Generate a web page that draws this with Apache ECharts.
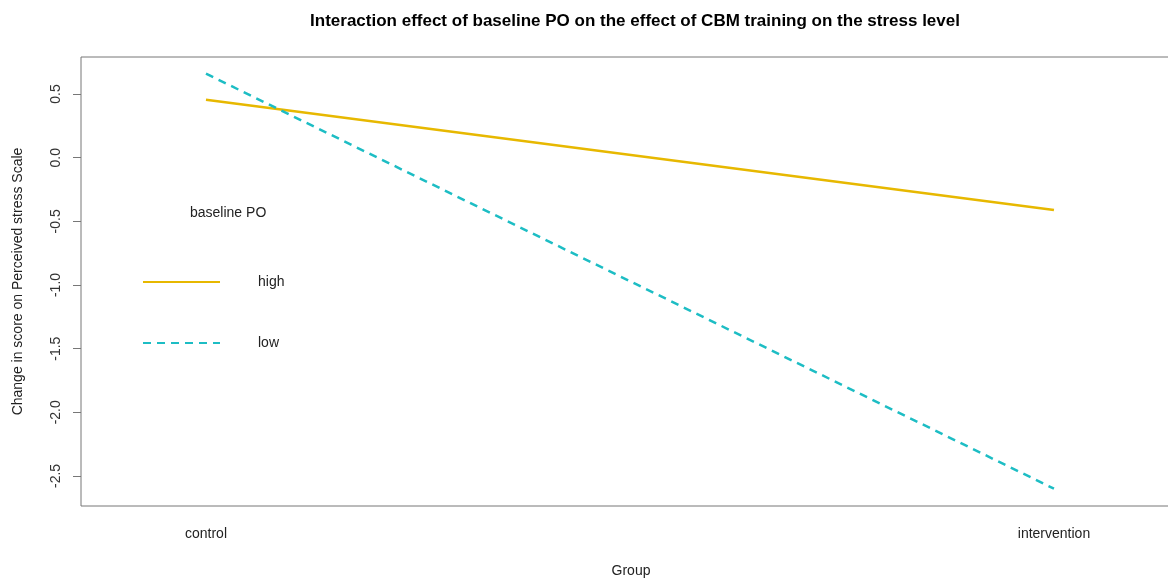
<!DOCTYPE html>
<html><head><meta charset="utf-8">
<script src="https://cdn.jsdelivr.net/npm/echarts@6/dist/echarts.min.js"></script>
<style>html,body{margin:0;padding:0;background:#fff}#c{width:1168px;height:579px}</style>
</head><body><div id="c"></div>
<script>
const groups = ['control', 'intervention'];
const groupPos = [1, 2];
const highPO = [0.455, -0.41];
const lowPO = [0.66, -2.6];
const yTicks = [-2.5, -2.0, -1.5, -1.0, -0.5, 0.0, 0.5];

const FONT = '"Liberation Sans", Arial, sans-serif';
const chart = echarts.init(document.getElementById('c'));
chart.setOption({
  backgroundColor: '#fff',
  animation: false,
  title: {
    text: 'Interaction effect of baseline PO on the effect of CBM training on the stress level',
    left: 630, textAlign: 'center', top: 8,
    textStyle: {fontFamily: FONT, fontSize: 17, fontWeight: 'bold', color: '#000'}
  },
  grid: {left: 81, top: 57, width: 1100, height: 449, show: true, borderColor: '#777', borderWidth: 1,
         containLabel: false, outerBoundsMode: 'none'},
  legend: {
    orient: 'vertical', left: 142, top: 275, padding: 0,
    itemWidth: 77, itemHeight: 14, itemGap: 47,
    itemStyle: {opacity: 0},
    textStyle: {fontFamily: FONT, fontSize: 14, color: '#222', padding: [0, 0, 0, 33]},
    data: ['high', 'low']
  },
  graphic: [{
    type: 'text', left: 190, top: 206,
    style: {text: 'baseline PO', font: '14px ' + FONT, fill: '#222'}
  }],
  xAxis: {
    type: 'value', min: 0.8526, max: 2.1498,
    name: 'Group', nameLocation: 'middle', nameGap: 58,
    nameTextStyle: {fontFamily: FONT, fontSize: 14, color: '#222'},
    axisLine: {show: false}, axisTick: {show: false}, splitLine: {show: false},
    axisLabel: {
      customValues: groupPos, margin: 21,
      formatter: v => groups[groupPos.indexOf(v)] || '',
      fontFamily: FONT, fontSize: 14, color: '#222'
    }
  },
  yAxis: {
    type: 'value', min: -2.736, max: 0.791,
    name: 'Change in score on Perceived stress Scale', nameLocation: 'middle', nameGap: 56,
    nameTextStyle: {fontFamily: FONT, fontSize: 14, color: '#222'},
    axisLine: {show: false}, splitLine: {show: false},
    axisTick: {show: true, customValues: yTicks, length: 8, lineStyle: {color: '#777'}},
    axisLabel: {
      customValues: yTicks, rotate: 90, margin: 18,
      formatter: v => v.toFixed(1),
      fontFamily: FONT, fontSize: 14, color: '#333'
    }
  },
  series: [
    {name: 'high', type: 'line', symbol: 'none', color: '#E7B800',
     lineStyle: {width: 2.5, color: '#E7B800'},
     data: groupPos.map((x, i) => [x, highPO[i]])},
    {name: 'low', type: 'line', symbol: 'none', color: '#1DBDC4',
     lineStyle: {width: 2.5, color: '#1DBDC4', type: [8, 6]},
     data: groupPos.map((x, i) => [x, lowPO[i]])}
  ]
});
</script></body></html>
